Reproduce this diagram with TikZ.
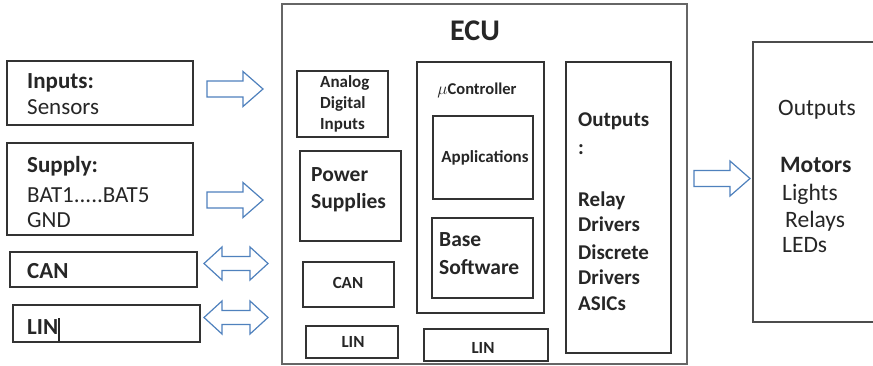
\documentclass[tikz,border=0pt]{standalone}
\usepackage{fontspec}
\setmainfont{Carlito}
\begin{document}
\begin{tikzpicture}[x=1pt,y=-1pt,
  box/.style={draw=black!80,line width=1.4pt,anchor=north west,inner sep=0pt,outer sep=0pt},
  frame/.style={draw=black!60,line width=1.3pt,anchor=north west,inner sep=0pt,outer sep=0pt},
  txt/.style={anchor=base west,inner sep=0pt,text=black!85},
  ctxt/.style={anchor=base,inner sep=0pt,text=black!85},
  arrowline/.style={draw={rgb,255:red,79;green,129;blue,189},line width=1.2pt,fill=white,line join=miter},
  rarrow/.pic={\path[arrowline] (0,-8) -- (36,-8) -- (36,-17.5) -- (56,0) -- (36,17.5) -- (36,8) -- (0,8) -- cycle;},
  dblarrow/.pic={\path[arrowline] (0,0) -- (18,-16.5) -- (18,-7) -- (46,-7) -- (46,-16.5) -- (64,0) -- (46,16.5) -- (46,7) -- (18,7) -- (18,16.5) -- cycle;},
  fl/.style={font=\fontsize{23}{27}\selectfont},
  flb/.style={font=\fontsize{23}{27}\selectfont\bfseries},
]
\path[use as bounding box] (0,0) rectangle (873,366);
\clip (0,0) rectangle (873,366);
\fill[white] (0,0) rectangle (873,366);

% ---- external inputs on the left
\node[box,minimum width=186pt,minimum height=64pt] (inputs) at (7,61) {};
\node[txt,flb] (inputsT) at (27,89) {Inputs:};
\node[txt,fl] (sensorsT) at (27,115) {Sensors};

\node[box,minimum width=186pt,minimum height=92pt] (supply) at (7,143) {};
\node[txt,flb] (supplyT) at (27,172.5) {Supply:};
\node[txt,fl] (batT) at (27,202.5) {BAT1.....BAT5};
\node[txt,fl] (gndT) at (27,227.5) {GND};

\node[box,minimum width=187pt,minimum height=35pt] (canL) at (10,252) {};
\node[txt,flb] (canLT) at (27,279) {CAN};

\node[box,minimum width=187pt,minimum height=37pt] (linL) at (13,305) {};
\node[txt,flb] (linLT) at (27,334) {LIN};
\draw[black!85,line width=1.1pt] (59,318) -- (59,341);

% ---- block arrows
\pic (inArrow) at (207,89) {rarrow};
\pic (supArrow) at (207,200) {rarrow};
\pic (canArrow) at (204,263.5) {dblarrow};
\pic (linArrow) at (204,317.5) {dblarrow};
\pic (outArrow) at (694,178.5) {rarrow};

% ---- ECU
\node[frame,minimum width=405pt,minimum height=360pt] (ecu) at (282,4) {};
\node[ctxt,font=\fontsize{30}{34}\selectfont\bfseries] (ecuT) at (475,41) {ECU};

\node[box,minimum width=91pt,minimum height=66pt] (adi) at (297,71) {};
\node[txt,font=\fontsize{17}{20}\selectfont\bfseries] (adi1) at (320,87.5) {Analog};
\node[txt,font=\fontsize{17}{20}\selectfont\bfseries] (adi2) at (320,108.5) {Digital};
\node[txt,font=\fontsize{17}{20}\selectfont\bfseries] (adi3) at (320,129.5) {Inputs};

\node[box,minimum width=101pt,minimum height=90pt] (pwr) at (300,151) {};
\node[txt,font=\fontsize{21.5}{25}\selectfont\bfseries] (pwr1) at (311,182) {Power};
\node[txt,font=\fontsize{21.5}{25}\selectfont\bfseries] (pwr2) at (311,209) {Supplies};

\node[box,minimum width=91pt,minimum height=45pt] (canI) at (303,262) {};
\node[ctxt,font=\fontsize{17}{20}\selectfont\bfseries] (canIT) at (348,288) {CAN};

\node[box,minimum width=92pt,minimum height=32pt] (linI) at (306,326) {};
\node[ctxt,font=\fontsize{17}{20}\selectfont\bfseries] (linIT) at (353,347.5) {LIN};

\node[box,minimum width=127pt,minimum height=251pt] (uc) at (417,62) {};
\node[ctxt,font=\fontsize{16.5}{19}\selectfont\bfseries] (ucT) at (477,95) {$\mu$Controller};

\node[box,minimum width=100pt,minimum height=83pt] (app) at (433,116) {};
\node[ctxt,font=\fontsize{17}{20}\selectfont\bfseries] (appT) at (485,162.5) {Applications};

\node[box,minimum width=101pt,minimum height=80pt] (bsw) at (432,218) {};
\node[txt,font=\fontsize{21.5}{25}\selectfont\bfseries] (bsw1) at (439,247) {Base};
\node[txt,font=\fontsize{21.5}{25}\selectfont\bfseries] (bsw2) at (439,275) {Software};

\node[box,minimum width=124pt,minimum height=32pt] (linM) at (424,329) {};
\node[ctxt,font=\fontsize{17}{20}\selectfont\bfseries] (linMT) at (483,353.5) {LIN};

\node[box,minimum width=105pt,minimum height=291pt] (outI) at (566,62) {};
\foreach \t/\yy [count=\i] in {Outputs/127, :/155, Relay/207, Drivers/232, Discrete/259, Drivers/284, ASICs/310}
  \node[txt,font=\fontsize{21}{25}\selectfont\bfseries] (outI\i) at (578,\yy) {\t};

% ---- external outputs on the right
\node[box,draw=black!70,minimum width=140pt,minimum height=280pt] (outR) at (753,42) {};
\node[txt,font=\fontsize{23.5}{28}\selectfont] (outR1) at (778,115.5) {Outputs};
\node[txt,font=\fontsize{23.5}{28}\selectfont\bfseries] (outR2) at (780,173) {Motors};
\node[txt,font=\fontsize{23.5}{28}\selectfont] (outR3) at (782,200.5) {Lights};
\node[txt,font=\fontsize{23.5}{28}\selectfont] (outR4) at (785,227.5) {Relays};
\node[txt,font=\fontsize{23.5}{28}\selectfont] (outR5) at (782,252.5) {LEDs};
\end{tikzpicture}
\end{document}
